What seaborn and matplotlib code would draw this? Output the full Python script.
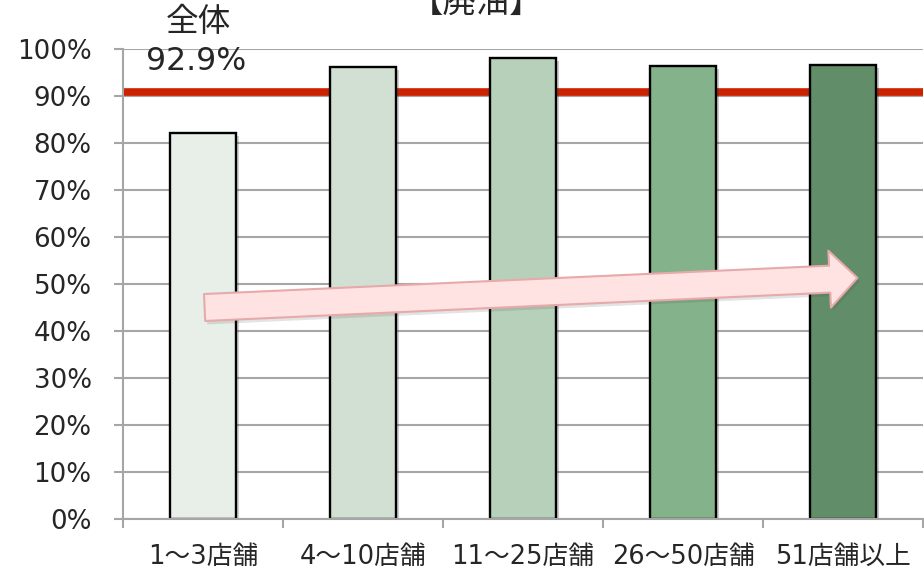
import matplotlib
matplotlib.use("Agg")
import matplotlib.pyplot as plt
import matplotlib.patheffects as pe
import seaborn as sns
import pandas as pd

# ---- data ----
categories = ["1～3店舗", "4～10店舗", "11～25店舗", "26～50店舗", "51店舗以上"]
values = [82.1, 96.2, 98.1, 96.4, 96.6]
overall_line = 90.9          # red reference line as drawn
overall_label = "92.9%"
overall_title = "全体"
chart_title = "【廃油】"
bar_colors = ["#E7EFE8", "#D2E0D3", "#B7D0B9", "#84B28A", "#618D69"]
y_ticks = list(range(0, 101, 10))
y_ticklabels = [f"{t}%" for t in y_ticks]

sns.set_theme(style="white")
plt.rcParams["font.family"] = ["DejaVu Sans", "Noto Sans CJK JP"]

df = pd.DataFrame({"cat": categories, "val": values})

fig = plt.figure(figsize=(9.24, 5.72), dpi=100)
ax = fig.add_axes([123 / 924, 1 - 519 / 572, 800 / 924, 470 / 572])

# gridlines
ax.set_axisbelow(True)
ax.yaxis.grid(True, color="#A6A6A6", linewidth=1.5)
ax.xaxis.grid(False)

# red reference line (behind bars)
ax.axhline(overall_line, color="#CC2200", linewidth=5.5, zorder=1.5)

sns.barplot(data=df, x="cat", y="val", hue="cat", palette=bar_colors,
            saturation=1, legend=False, width=0.41, edgecolor="black",
            linewidth=1.7, ax=ax, zorder=2)
for p in ax.patches:
    p.set_path_effects([pe.SimplePatchShadow(offset=(2, -2), alpha=0.25),
                        pe.Normal()])

ax.set_xlim(-0.5, 4.5)
ax.set_ylim(0, 100)
ax.set_yticks(y_ticks)
ax.set_yticklabels(y_ticklabels)
ax.set_xlabel("")
ax.set_ylabel("")

# x tick marks at category boundaries
ax.set_xticks([i - 0.5 for i in range(len(categories) + 1)], minor=True)
ax.tick_params(axis="x", which="major", length=0, pad=18, labelsize=18.5)
ax.tick_params(axis="x", which="minor", length=6.5, width=1.5, color="#A6A6A6",
               direction="out", bottom=True)
ax.tick_params(axis="y", which="major", length=6.5, width=1.5, color="#A6A6A6",
               direction="out", left=True, pad=16, labelsize=18.8)

for s in ["top", "right"]:
    ax.spines[s].set_visible(False)
for s in ["left", "bottom"]:
    ax.spines[s].set_visible(True)
    ax.spines[s].set_color("#A6A6A6")
    ax.spines[s].set_linewidth(1.5)

# overall label
ax.text(-0.03, 105.85, overall_title, ha="center", va="center",
        fontsize=23.5, clip_on=False)
ax.text(-0.04, 97.4, overall_label, ha="center", va="center",
        fontsize=22.7, clip_on=False)

# trend arrow
ax.annotate("", xy=(4.09, 51.3), xytext=(0.01, 45.0),
            arrowprops=dict(arrowstyle="simple,head_length=1.0,head_width=2.05,tail_width=0.97",
                            fc="#FFE3E3", ec="#E6AAAA", lw=1.5,
                            shrinkA=0, shrinkB=0, mutation_scale=20,
                            path_effects=[pe.SimplePatchShadow(offset=(1.5, -2.5), alpha=0.15),
                                          pe.Normal()]),
            zorder=5)

# title (cut at the top of the image, as in the original)
fig.text(477 / 924, 1 - 19 / 572, chart_title, ha="center", va="bottom",
         fontsize=24)

fig.savefig("out.png", dpi=100)
